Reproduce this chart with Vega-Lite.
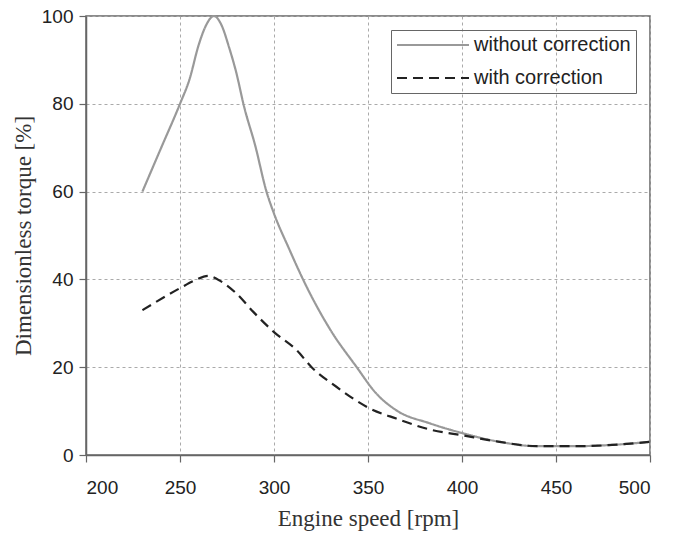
{
  "$schema": "https://vega.github.io/schema/vega-lite/v6.json",
  "width": 564,
  "height": 439,
  "autosize": "none",
  "padding": {"left": 86, "top": 16, "right": 31, "bottom": 78},
  "background": "white",
  "config": {
    "view": {"stroke": "#666", "strokeWidth": 1.5},
    "axis": {
      "domainColor": "#666", "domainWidth": 1.5,
      "tickColor": "#666", "tickWidth": 1.2, "tickSize": 7,
      "gridColor": "#aaa", "gridDash": [3, 3], "gridWidth": 1,
      "labelFont": "Liberation Sans", "labelFontSize": 19, "labelColor": "#222",
      "titleFont": "Liberation Serif", "titleFontSize": 23, "titleFontWeight": "normal", "titleColor": "#333"
    }
  },
  "data": {
    "values": [
      {"rpm": 230, "v": 60, "s": "without correction"},
      {"rpm": 240, "v": 70, "s": "without correction"},
      {"rpm": 250, "v": 80, "s": "without correction"},
      {"rpm": 255, "v": 85.5, "s": "without correction"},
      {"rpm": 260, "v": 93.5, "s": "without correction"},
      {"rpm": 264, "v": 98, "s": "without correction"},
      {"rpm": 268, "v": 100, "s": "without correction"},
      {"rpm": 272, "v": 98, "s": "without correction"},
      {"rpm": 276, "v": 93, "s": "without correction"},
      {"rpm": 280, "v": 87, "s": "without correction"},
      {"rpm": 284, "v": 79.5, "s": "without correction"},
      {"rpm": 290, "v": 70.5, "s": "without correction"},
      {"rpm": 296, "v": 60, "s": "without correction"},
      {"rpm": 300, "v": 55, "s": "without correction"},
      {"rpm": 308, "v": 47, "s": "without correction"},
      {"rpm": 316, "v": 39.5, "s": "without correction"},
      {"rpm": 330, "v": 28.5, "s": "without correction"},
      {"rpm": 344, "v": 20, "s": "without correction"},
      {"rpm": 354, "v": 14.2, "s": "without correction"},
      {"rpm": 365, "v": 10.2, "s": "without correction"},
      {"rpm": 383, "v": 7.2, "s": "without correction"},
      {"rpm": 400, "v": 5, "s": "without correction"},
      {"rpm": 420, "v": 3, "s": "without correction"},
      {"rpm": 440, "v": 2, "s": "without correction"},
      {"rpm": 460, "v": 2, "s": "without correction"},
      {"rpm": 480, "v": 2.3, "s": "without correction"},
      {"rpm": 500, "v": 3, "s": "without correction"},
      {"rpm": 230, "v": 33, "s": "with correction"},
      {"rpm": 250, "v": 38, "s": "with correction"},
      {"rpm": 258, "v": 39.8, "s": "with correction"},
      {"rpm": 265, "v": 40.8, "s": "with correction"},
      {"rpm": 272, "v": 39.5, "s": "with correction"},
      {"rpm": 280, "v": 36.8, "s": "with correction"},
      {"rpm": 289, "v": 32.6, "s": "with correction"},
      {"rpm": 300, "v": 28, "s": "with correction"},
      {"rpm": 312, "v": 23.9, "s": "with correction"},
      {"rpm": 320, "v": 20, "s": "with correction"},
      {"rpm": 333, "v": 15.6, "s": "with correction"},
      {"rpm": 351, "v": 10.6, "s": "with correction"},
      {"rpm": 365, "v": 8.3, "s": "with correction"},
      {"rpm": 383, "v": 5.8, "s": "with correction"},
      {"rpm": 400, "v": 4.5, "s": "with correction"},
      {"rpm": 420, "v": 3, "s": "with correction"},
      {"rpm": 440, "v": 2, "s": "with correction"},
      {"rpm": 460, "v": 2, "s": "with correction"},
      {"rpm": 480, "v": 2.3, "s": "with correction"},
      {"rpm": 500, "v": 3, "s": "with correction"}
    ]
  },
  "mark": {"type": "line", "interpolate": "monotone", "strokeWidth": 2.2},
  "encoding": {
    "x": {
      "field": "rpm", "type": "quantitative",
      "scale": {"domain": [200, 500], "nice": false, "zero": false},
      "axis": {"values": [200, 250, 300, 350, 400, 450, 500], "title": "Engine speed [rpm]", "labelPadding": 16, "titlePadding": 10}
    },
    "y": {
      "field": "v", "type": "quantitative",
      "scale": {"domain": [0, 100], "nice": false},
      "axis": {"values": [0, 20, 40, 60, 80, 100], "title": "Dimensionless torque [%]", "labelPadding": 6, "titlePadding": 6}
    },
    "color": {
      "field": "s", "type": "nominal",
      "scale": {"domain": ["without correction", "with correction"], "range": ["#999999", "#222222"]},
      "legend": {
        "title": null, "orient": "none", "legendX": 305, "legendY": 14,
        "symbolType": "stroke", "symbolSize": 5184, "symbolStrokeWidth": 2,
        "clipHeight": 20,
        "labelFont": "Liberation Sans", "labelFontSize": 20, "labelColor": "#222",
        "labelOffset": 4, "rowPadding": 13,
        "strokeColor": "#666", "padding": 5
      }
    },
    "strokeDash": {
      "field": "s", "type": "nominal",
      "scale": {"domain": ["without correction", "with correction"], "range": [[1, 0], [10, 6]]},
      "legend": null
    }
  }
}
